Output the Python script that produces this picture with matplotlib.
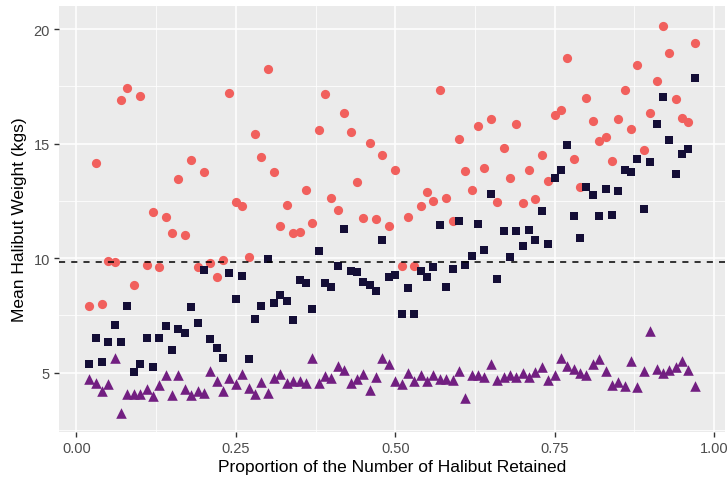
import numpy as np
import matplotlib
matplotlib.use("Agg")
import matplotlib.pyplot as plt
from matplotlib.ticker import MultipleLocator

plt.rcParams['font.family'] = ['Liberation Sans', 'DejaVu Sans']

# proportion retained, one value per 0.01 step
prop = np.round(np.arange(2, 98) / 100, 2)

# mean weight for each retention scenario
weight_circle = [
    7.91, 14.15, 8.00, 9.89, 9.85, 16.92, 17.41, 8.84, 17.10, 9.71,
    12.00, 9.63, 11.78, 11.08, 13.45, 10.99, 14.29, 9.63, 13.75, 9.77,
    9.17, 9.92, 17.22, 12.45, 12.28, 10.04, 15.43, 14.43, 18.26, 13.77,
    11.38, 12.33, 11.11, 11.13, 12.97, 11.53, 15.60, 17.19, 12.64, 12.09,
    16.34, 15.50, 13.33, 11.77, 15.05, 11.72, 14.51, 11.40, 13.85, 9.64,
    11.78, 9.67, 12.28, 12.87, 12.50, 17.36, 12.62, 11.62, 15.21, 13.82,
    12.97, 15.79, 13.92, 16.06, 12.45, 14.80, 13.48, 15.84, 12.41, 13.86,
    12.59, 14.52, 13.35, 16.26, 16.48, 18.74, 14.33, 13.10, 17.00, 15.97,
    15.11, 15.28, 14.23, 16.07, 17.36, 15.63, 18.43, 14.73, 16.34, 17.74,
    20.16, 18.95, 16.97, 16.13, 15.96, 19.38,
]

weight_square = [
    5.39, 6.52, 5.45, 6.34, 7.08, 6.34, 7.90, 5.01, 5.39, 6.52,
    5.23, 6.52, 7.03, 5.98, 6.89, 6.74, 7.87, 7.18, 9.48, 6.48,
    6.08, 5.64, 9.35, 8.23, 9.22, 5.60, 7.35, 7.91, 9.96, 8.04,
    8.38, 8.13, 7.31, 9.05, 8.89, 7.79, 10.32, 8.91, 8.75, 9.64,
    11.28, 9.44, 9.41, 8.97, 8.84, 8.54, 10.80, 9.16, 9.27, 7.56,
    8.70, 7.57, 9.42, 9.19, 9.63, 11.46, 8.72, 9.52, 11.62, 9.71,
    10.08, 11.50, 10.37, 12.79, 9.08, 11.18, 10.06, 11.18, 10.54, 11.24,
    10.81, 12.07, 10.61, 13.52, 13.85, 14.93, 11.85, 10.87, 13.10, 12.75,
    11.82, 13.03, 11.87, 12.94, 13.85, 13.77, 14.32, 12.13, 14.21, 15.85,
    17.04, 15.16, 13.67, 14.54, 14.76, 17.88,
]

weight_triangle = [
    4.70, 4.54, 4.21, 4.51, 5.64, 3.25, 4.06, 4.06, 4.06, 4.28,
    3.99, 4.45, 4.91, 4.00, 4.87, 4.29, 4.03, 4.21, 4.10, 5.05,
    4.62, 4.21, 4.76, 4.51, 4.95, 4.32, 4.07, 4.57, 4.10, 4.76,
    4.95, 4.54, 4.65, 4.65, 4.54, 5.64, 4.54, 4.84, 4.76, 5.27,
    5.13, 4.54, 4.73, 4.95, 4.22, 4.79, 5.64, 5.35, 4.65, 4.50,
    4.98, 4.62, 4.91, 4.65, 4.87, 4.72, 4.72, 4.69, 5.05, 3.88,
    4.87, 4.87, 4.79, 5.35, 4.69, 4.79, 4.87, 4.79, 4.98, 4.79,
    5.02, 5.23, 4.69, 4.91, 5.64, 5.27, 5.17, 4.98, 4.87, 5.39,
    5.57, 5.05, 4.44, 4.59, 4.40, 5.49, 4.35, 5.05, 6.81, 5.16,
    4.98, 5.13, 5.23, 5.49, 5.09, 4.40,
]

reference_weight = 9.82

fig = plt.figure(figsize=(7.28, 4.81), dpi=100)
ax = fig.add_axes([0.081, 0.10, 0.915, 0.885])
ax.set_facecolor('#EBEBEB')

ax.scatter(prop, weight_circle, marker='o', s=44, color='#F1605D', linewidths=0, zorder=3)
ax.scatter(prop, weight_square, marker='s', s=40, color='#140E36', linewidths=0, zorder=3)
ax.scatter(prop, weight_triangle, marker='^', s=58, color='#721F81', linewidths=0, zorder=3)

ax.axhline(reference_weight, color='black', linestyle=(0, (4, 4)), linewidth=1.1, zorder=4)

# ggplot-style limits: 5% padding around the data range
lo_y = min(min(weight_circle), min(weight_square), min(weight_triangle))
hi_y = max(max(weight_circle), max(weight_square), max(weight_triangle))
pad_y = (hi_y - lo_y) * 0.05
ax.set_ylim(lo_y - pad_y, hi_y + pad_y)
pad_x = (prop[-1] - prop[0]) * 0.05
ax.set_xlim(prop[0] - pad_x, prop[-1] + pad_x)

ax.xaxis.set_major_locator(MultipleLocator(0.25))
ax.xaxis.set_minor_locator(MultipleLocator(0.125))
ax.yaxis.set_major_locator(MultipleLocator(5))
ax.yaxis.set_minor_locator(MultipleLocator(2.5))
ax.set_xticks([0, 0.25, 0.5, 0.75, 1.0])
ax.set_xticklabels(['0.00', '0.25', '0.50', '0.75', '1.00'])
ax.set_yticks([5, 10, 15, 20])

ax.grid(which='major', color='white', linewidth=1.1, zorder=0)
ax.grid(which='minor', color='white', linewidth=0.55, zorder=0)
ax.set_axisbelow(True)
for sp in ax.spines.values():
    sp.set_visible(False)

ax.tick_params(which='major', direction='out', length=3.5, width=1.0, color='#333333',
               labelsize=10.5, labelcolor='#4D4D4D', pad=3)
ax.tick_params(which='minor', length=0)

ax.set_xlabel('Proportion of the Number of Halibut Retained', fontsize=12.5, labelpad=3)
ax.set_ylabel('Mean Halibut Weight (kgs)', fontsize=12.5, labelpad=5)

fig.savefig('out.png', dpi=100)
